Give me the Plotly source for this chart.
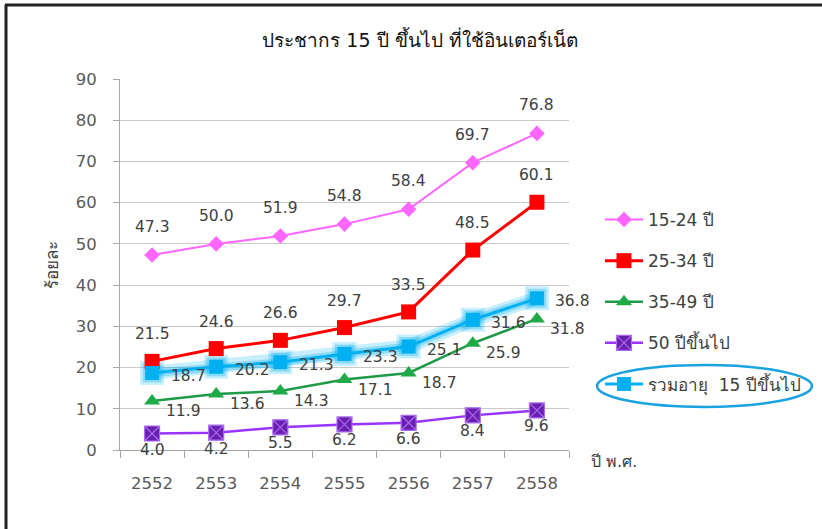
import plotly.graph_objects as go

years = ["2552", "2553", "2554", "2555", "2556", "2557", "2558"]
age_15_24 = [47.3, 50.0, 51.9, 54.8, 58.4, 69.7, 76.8]
age_25_34 = [21.5, 24.6, 26.6, 29.7, 33.5, 48.5, 60.1]
age_35_49 = [11.9, 13.6, 14.3, 17.1, 18.7, 25.9, 31.8]
age_50_up = [4.0, 4.2, 5.5, 6.2, 6.6, 8.4, 9.6]
total_15_up = [18.7, 20.2, 21.3, 23.3, 25.1, 31.6, 36.8]

names = ["15-24 ปี", "25-34 ปี", "35-49 ปี", "50 ปีขึ้นไป", "รวมอายุ  15 ปีขึ้นไป"]
title_text = "ประชากร 15 ปี ขึ้นไป ที่ใช้อินเตอร์เน็ต"
y_title = "ร้อยละ"
x_title = "ปี พ.ศ."

W, H = 822, 529
L, R, T, B = 120, 569, 79, 450  # plot area in pixels


def px_x(p):
    return (p - L) / (R - L)


def px_y(p):
    return (B - p) / (B - T)


FONT = "DejaVu Sans, Tahoma, sans-serif"
LABEL_COLOR = "#404040"

fig = go.Figure()

series = [
    dict(y=age_15_24, name=names[0], color="#ff66ff", lw=2, sym="diamond", ms=12, mcol="#ff66ff", mline=None),
    dict(y=age_25_34, name=names[1], color="#ff0000", lw=3, sym="square", ms=15, mcol="#ff0000", mline=None),
    dict(y=age_35_49, name=names[2], color="#1f9a48", lw=2.5, sym="triangle-up", ms=14, mcol="#1faa48", mline=None),
    dict(y=age_50_up, name=names[3], color="#9933ff", lw=2.5, sym="square-x", ms=15, mcol="#6a1fb0", mline="#a86bf0"),
]

# glow under total line
fig.add_trace(go.Scatter(x=years, y=total_15_up, mode="lines+markers", showlegend=False, hoverinfo="skip",
                         line=dict(color="rgba(0,176,240,0.22)", width=14),
                         marker=dict(symbol="square", size=24, color="rgba(0,176,240,0.22)"),
                         cliponaxis=False))
fig.add_trace(go.Scatter(x=years, y=total_15_up, mode="lines+markers", showlegend=False, hoverinfo="skip",
                         line=dict(color="rgba(0,176,240,0.3)", width=8),
                         marker=dict(symbol="square", size=19, color="rgba(0,176,240,0.3)"),
                         cliponaxis=False))

for i, s in enumerate(series):
    mk = dict(symbol=s["sym"], size=s["ms"], color=s["mcol"])
    if s["mline"]:
        mk["line"] = dict(color=s["mline"], width=1.2)
    fig.add_trace(go.Scatter(x=years, y=s["y"], name=s["name"], mode="lines+markers",
                             line=dict(color=s["color"], width=s["lw"]), marker=mk,
                             legendgroup=f"g{i}", legendrank=i + 1, cliponaxis=False))

fig.add_trace(go.Scatter(x=years, y=total_15_up, name=names[4], mode="lines+markers",
                         line=dict(color="#00b0f0", width=3),
                         marker=dict(symbol="square", size=14, color="#00b0f0"),
                         legendgroup="g4", legendrank=5, cliponaxis=False))

# data labels (x given as category index on the category axis)
offsets = [
    (age_15_24, 0, 28),
    (age_25_34, 0, 27),
    (age_35_49, 31, -10),
    (age_50_up, 0, -16),
    (total_15_up, 36, -3),
]
annotations = []
for vals, dx, dy in offsets:
    for idx, yv in enumerate(vals):
        annotations.append(dict(x=idx, y=yv, xref="x", yref="y", text=f"{yv:.1f}", showarrow=False,
                                xshift=dx, yshift=dy, font=dict(family=FONT, size=15.5, color=LABEL_COLOR)))

annotations.append(dict(x=px_x(589), y=px_y(461), xref="paper", yref="paper", text=x_title, showarrow=False,
                        xanchor="left", yanchor="middle", font=dict(family=FONT, size=16, color=LABEL_COLOR)))

shapes = [
    # ellipse around total legend item
    dict(type="circle", xref="paper", yref="paper", x0=px_x(597), x1=px_x(812), y0=px_y(407), y1=px_y(365),
         line=dict(color="#1aa3e0", width=2.5)),
    # frame top and left
    dict(type="line", xref="paper", yref="paper", x0=px_x(5), x1=px_x(822), y0=px_y(5), y1=px_y(5),
         line=dict(color="#222222", width=3)),
    dict(type="line", xref="paper", yref="paper", x0=px_x(6), x1=px_x(6), y0=px_y(5), y1=px_y(529),
         line=dict(color="#222222", width=3)),
]

fig.update_layout(
    width=W, height=H,
    margin=dict(l=L, r=W - R, t=T, b=H - B, pad=0),
    paper_bgcolor="white", plot_bgcolor="white",
    font=dict(family=FONT, size=14, color=LABEL_COLOR),
    title=dict(text=title_text, x=420 / W, xref="container", xanchor="center",
               y=1 - 40 / H, yref="container", yanchor="middle",
               font=dict(family=FONT, size=19, color="#111111")),
    xaxis=dict(type="category", showgrid=False, showline=True, linecolor="#a6a6a6", linewidth=1,
               ticks="outside", tickson="boundaries", ticklen=7, tickcolor="#a6a6a6",
               tickfont=dict(family=FONT, size=16.5, color="#595959"), ticklabelstandoff=18,
               range=[-0.5, 6.5]),
    yaxis=dict(range=[0, 90], dtick=10, showgrid=True, gridcolor="#c8c8c8", gridwidth=1,
               showline=True, linecolor="#a6a6a6", linewidth=1, zeroline=False,
               ticks="outside", ticklen=6, tickcolor="#a6a6a6",
               tickfont=dict(family=FONT, size=16.5, color="#595959"), ticklabelstandoff=13,
               title=dict(text=y_title, font=dict(family=FONT, size=17, color=LABEL_COLOR), standoff=12)),
    legend=dict(x=px_x(600), y=px_y(202), xanchor="left", yanchor="top", tracegroupgap=16,
                itemwidth=38,
                font=dict(family=FONT, size=17, color=LABEL_COLOR), bgcolor="rgba(0,0,0,0)"),
    annotations=annotations,
    shapes=shapes,
    showlegend=True,
)

fig.write_html("out.html", config={"displayModeBar": False},
               post_script="document.body.style.margin='0';document.body.style.overflow='hidden';")
